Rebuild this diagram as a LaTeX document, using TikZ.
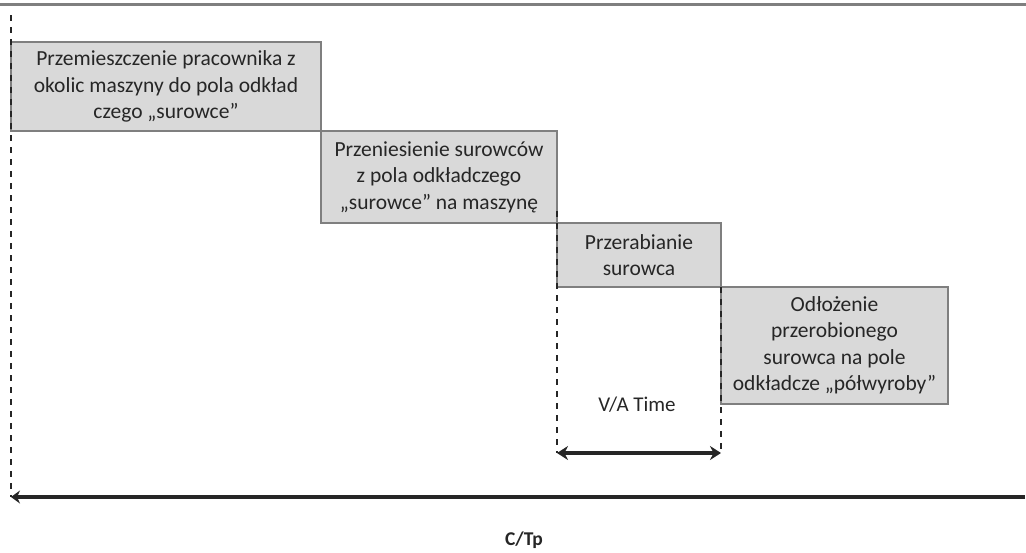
\documentclass[tikz,border=0pt]{standalone}
\usepackage{fontspec}
\setmainfont{Carlito}
\usepackage{xcolor}
\usepackage{tikz}
\usetikzlibrary{arrows.meta, positioning}

\definecolor{boxfill}{HTML}{D9D9D9}
\definecolor{boxline}{HTML}{7F7F7F}
\definecolor{ink}{HTML}{262626}

\begin{document}
\begin{tikzpicture}[
    x=1pt, y=-1pt,
    every node/.style={font=\fontsize{21.5}{26.5}\selectfont, text=ink},
    box/.style={draw=boxline, line width=1.6pt, fill=boxfill, align=center,
                inner sep=0pt, outer sep=0pt, anchor=north west},
    guide/.style={ink, line width=1.3pt, dash pattern=on 6pt off 6pt},
    arr/.style={ink, line width=4.5pt},
]
\useasboundingbox (0,0) rectangle (1026,552);
\draw[boxline, line width=3pt] (0,4.5) -- (1026,4.5);

\node[box, minimum width=310pt, minimum height=89pt] at (11,42) (move)
    {Przemieszczenie pracownika z\\okolic maszyny do pola odkład\\czego „surowce”};
\node[box, minimum width=236pt, minimum height=92pt, below right=0pt and 0pt of move] (carry)
    {Przeniesienie surowców\\z pola odkładczego\\„surowce” na maszynę};
\node[box, minimum width=164pt, minimum height=64pt, below right=0pt and 0pt of carry] (proc)
    {Przerabianie\\surowca};
\node[box, minimum width=227pt, minimum height=117pt, below right=0pt and 0pt of proc] (store)
    {Odłożenie\\przerobionego\\surowca na pole\\odkładcze „półwyroby”};

% time axes
\coordinate (ctL) at (11,497);
\coordinate (ctR) at (1025,497);
\coordinate (ctTop) at (11,15);
\coordinate (vaL) at (proc.south west |- 0,453);
\coordinate (vaR) at (proc.south east |- 0,453);

\draw[guide] (ctTop) -- (ctL);
\draw[guide] (proc.south west) ++(0,-76) -- (vaL);
\draw[guide] (proc.south east) -- (vaR);

\draw[arr, {Stealth[length=11pt, width=14pt]}-{Stealth[length=11pt, width=14pt]}] (vaL) -- (vaR);
\draw[arr, -{Stealth[length=9pt, width=13pt]}] (ctR) -- (ctL);

\node[font=\fontsize{21}{25}\selectfont] (valabel) at (637,405) {V/A Time};
\node[font=\bfseries\fontsize{19.5}{23}\selectfont] (ctlabel) at (524,540) {C/Tp};
\end{tikzpicture}
\end{document}
